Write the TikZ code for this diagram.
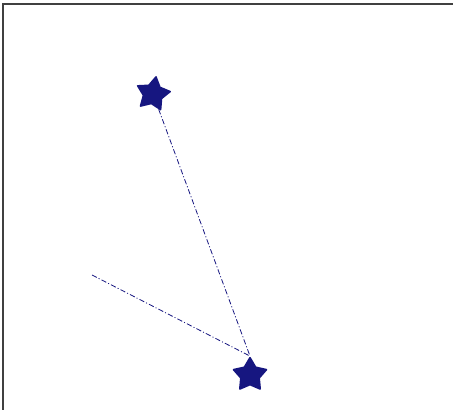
\documentclass[tikz,border=0pt]{standalone}
\usepackage{xcolor}
\usepackage{tikz}
\usetikzlibrary{shapes.geometric}
\definecolor{starblue}{RGB}{22,22,128}

\begin{document}
\begin{tikzpicture}[
    x=0.75pt, y=-0.75pt,
    staricon/.style={star, star points=5, star point ratio=1.8,
                minimum size=26pt, inner sep=0pt, draw=starblue, fill=starblue,
                line width=1.2pt, line join=round},
    link/.style={draw=starblue, line width=0.6pt,
                dash pattern=on 4pt off 1.6pt on 0.8pt off 1.6pt}
]
\useasboundingbox (0,0) rectangle (453,410);
\draw[line width=1.2pt, black!75] (3,410) -- (3,4) -- (453,4);
\node[staricon, rotate=-10] (topstar) at (153,94) {};
\node[staricon] (lowstar) at (250,375) {};
\coordinate (loose) at (92,275);
\draw[link] (topstar) -- (lowstar.north);
\draw[link] (loose) -- (lowstar.north);
\end{tikzpicture}
\end{document}
